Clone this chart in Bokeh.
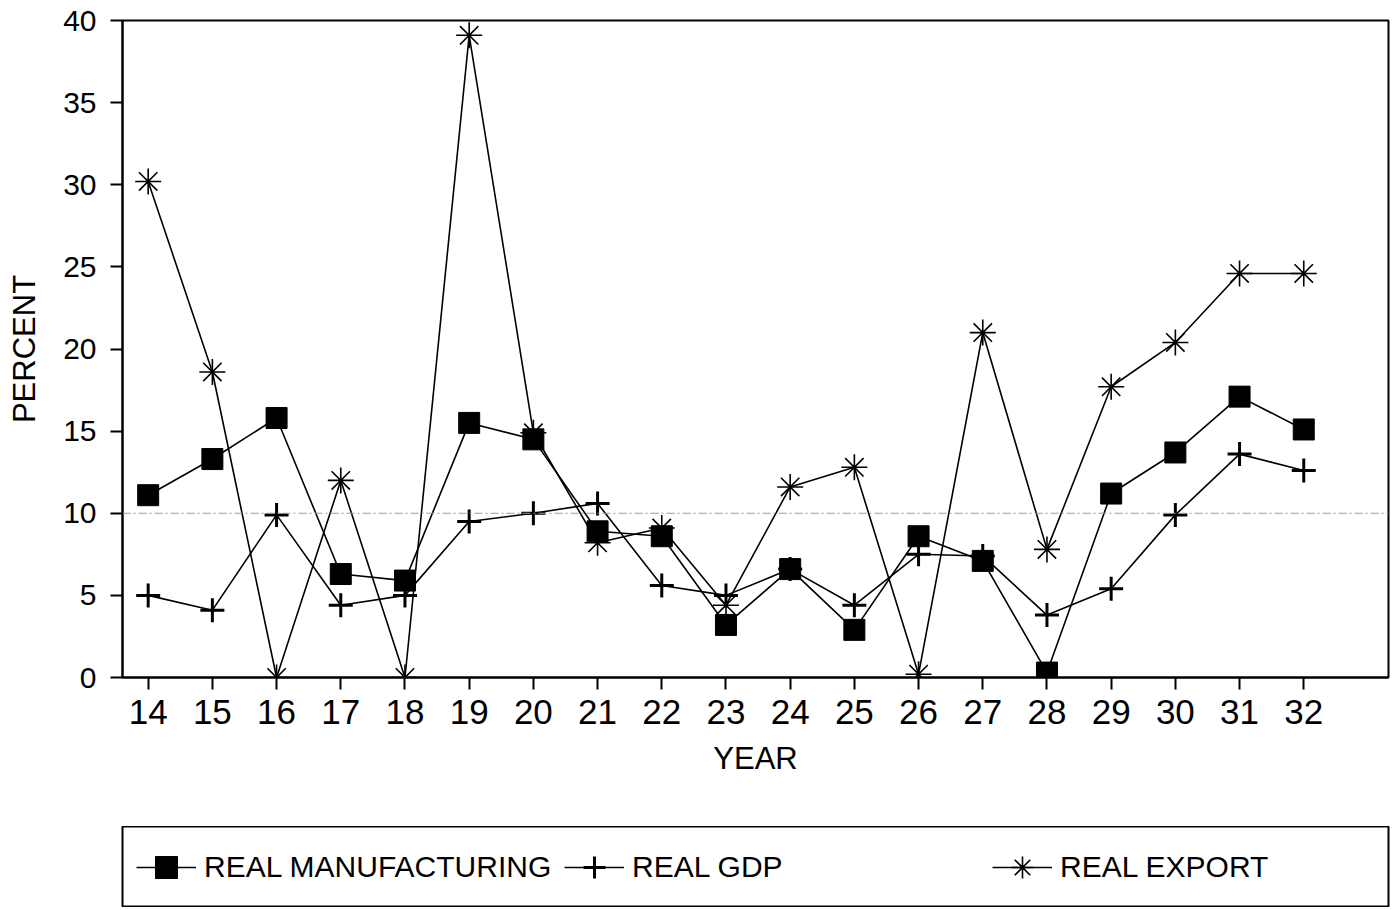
from bokeh.plotting import figure
from bokeh.models import Legend, LegendItem, Span, FixedTicker, Range1d
from bokeh.layouts import column
from bokeh.embed import file_html
from bokeh.resources import INLINE

years = list(range(14, 33))
manufacturing = [11.1, 13.3, 15.8, 6.3, 5.9, 15.5, 14.5, 8.9, 8.6, 3.2, 6.6, 2.9, 8.6, 7.1, 0.3, 11.2, 13.7, 17.1, 15.1]
gdp = [5.0, 4.1, 9.9, 4.4, 5.0, 9.5, 10.0, 10.6, 5.6, 5.0, 6.6, 4.4, 7.5, 7.4, 3.8, 5.4, 9.9, 13.6, 12.6]
export = [30.2, 18.6, 0.0, 12.0, 0.0, 39.1, 14.9, 8.2, 9.1, 4.4, 11.6, 12.8, 0.2, 21.0, 7.8, 17.7, 20.4, 24.6, 24.6]
y_ticks = [0, 5, 10, 15, 20, 25, 30, 35, 40]
ref_level = 10
series_names = ["REAL MANUFACTURING", "REAL GDP", "REAL EXPORT"]

FONT = "Liberation Sans"

p = figure(frame_width=1266, frame_height=657,
           min_border_left=122, min_border_top=20, min_border_right=2, min_border_bottom=149,
           x_range=Range1d(13.6, 33.32), y_range=Range1d(0, 40),
           output_backend="svg", toolbar_location=None)

p.xgrid.visible = False
p.ygrid.visible = False
p.outline_line_color = "black"
p.outline_line_width = 2
p.background_fill_color = "white"
p.border_fill_color = "white"

p.xaxis.ticker = FixedTicker(ticks=years)
p.yaxis.ticker = FixedTicker(ticks=y_ticks)
p.xaxis.minor_tick_line_color = None
p.yaxis.minor_tick_line_color = None
for ax in (p.xaxis, p.yaxis):
    ax.axis_line_width = 2
    ax.axis_line_color = "black"
    ax.major_tick_line_width = 2
    ax.major_tick_line_color = "black"
    ax.major_tick_in = 0
    ax.major_tick_out = 12
    ax.major_label_text_font = FONT
    ax.major_label_text_color = "black"
    ax.axis_label_text_font = FONT
    ax.axis_label_text_font_style = "normal"
    ax.axis_label_text_color = "black"
    ax.axis_label_text_font_size = "31px"

p.xaxis.major_label_text_font_size = "35px"
p.yaxis.major_label_text_font_size = "30px"
p.xaxis.major_label_standoff = 10
p.yaxis.major_label_standoff = 14
p.xaxis.axis_label = "YEAR"
p.yaxis.axis_label = "PERCENT"
p.xaxis.axis_label_standoff = 14
p.yaxis.axis_label_standoff = 18

p.add_layout(Span(location=ref_level, dimension="width", line_color="#999999",
                  line_width=1, line_dash="8 3 2 3"))

lw = 1.6
styles = [
    dict(marker="square", size=21, fill_color="black", line_color="black", line_width=1),
    dict(marker="cross", size=24, line_color="black", line_width=3),
    dict(marker="asterisk", size=26, line_color="black", line_width=1.6),
]
series = [manufacturing, gdp, export]
for vals, st in zip(series, styles):
    p.line(years, vals, line_color="black", line_width=lw)
    p.scatter(years, vals, **st)

# legend panel (its ranges keep the proxy glyphs out of view; only the legend shows)
lg = figure(frame_width=1266, height=81, x_range=Range1d(0, 1), y_range=Range1d(-1, 0),
            min_border_left=122, min_border_right=2, min_border_top=0, min_border_bottom=0,
            output_backend="svg", toolbar_location=None)
lg.axis.visible = False
lg.xgrid.visible = False
lg.ygrid.visible = False
lg.outline_line_color = "black"
lg.outline_line_width = 2
items = []
for name, vals, st in zip(series_names, series, styles):
    r1 = lg.line(years, vals, line_color="black", line_width=lw)
    r2 = lg.scatter(years, vals, **st)
    items.append(LegendItem(label=name, renderers=[r1, r2]))
legend = Legend(items=items, orientation="horizontal", location="left")
legend.label_text_font = FONT
legend.label_text_font_size = "30px"
legend.label_text_color = "black"
legend.glyph_width = 60
legend.glyph_height = 55
legend.label_standoff = 8
legend.label_width = 350
legend.spacing = 10
legend.padding = 0
legend.margin = 14
legend.border_line_color = None
legend.background_fill_alpha = 0
lg.add_layout(legend, "center")

layout = column(p, lg, spacing=0)
open("out.html", "w").write(file_html(layout, INLINE))
